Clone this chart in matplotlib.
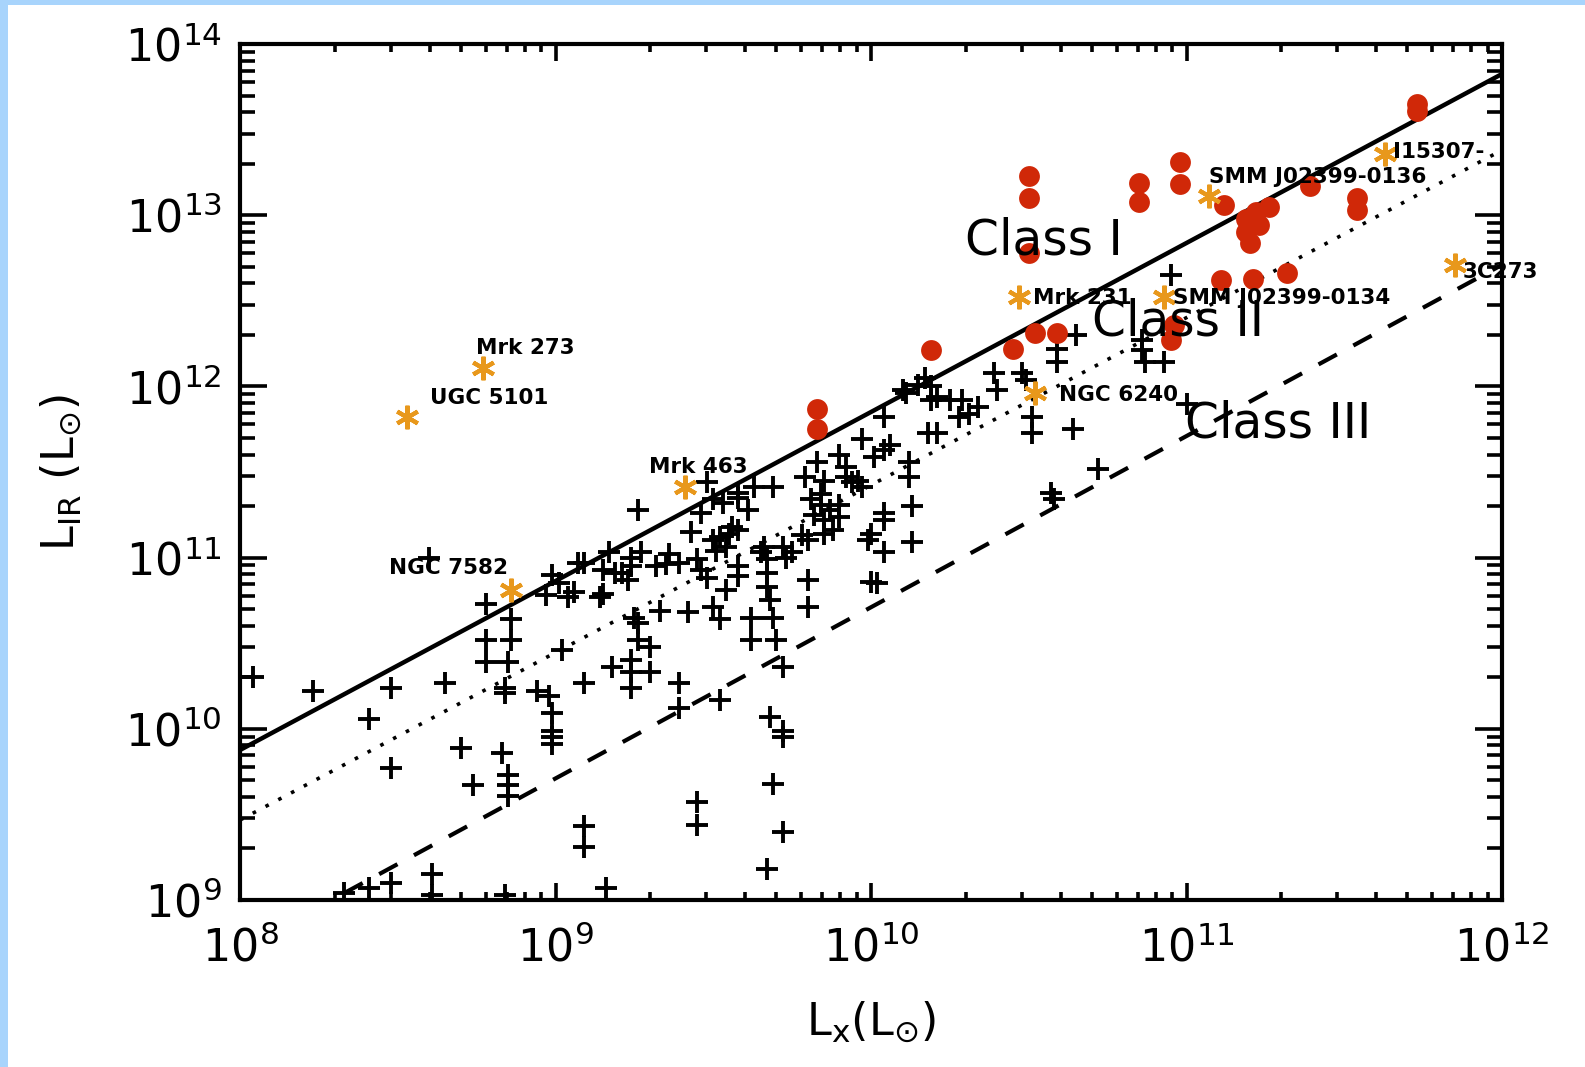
import numpy as np
import matplotlib
matplotlib.use("Agg")
import matplotlib.pyplot as plt
from matplotlib.patches import Rectangle

# log10 of luminosities (solar units)
# black crosses
plus_lx = np.array([
    8.04, 8.23, 8.48, 8.41, 8.65, 8.48, 8.70, 8.74, 8.83, 8.85, 8.85, 8.85,
    8.78, 8.86, 8.78, 8.86, 8.78, 8.85, 8.84, 8.84, 8.94, 8.98, 8.99, 8.99,
    8.99, 8.99, 9.02, 8.61, 8.48, 8.41, 8.33, 8.61, 8.84, 8.60, 9.07, 8.99,
    8.97, 9.04, 9.14, 9.19, 9.01,
    9.26, 9.48, 9.43, 9.09, 9.15, 9.06, 9.15, 9.24, 9.24, 9.23, 9.27, 9.36,
    9.35, 9.26, 9.26, 9.30, 9.45, 9.46, 9.48, 9.50, 9.52, 9.54, 9.54, 9.55,
    9.56, 9.50, 9.53, 9.58, 9.63, 9.61, 9.69, 9.66, 9.67, 9.67, 9.67, 9.68,
    9.69, 9.62, 9.62, 9.70, 9.72, 9.80, 9.80, 9.81, 9.84, 9.87, 9.82, 9.85,
    9.90, 9.84, 9.90, 9.85, 9.78, 9.80, 9.79, 9.83, 9.85, 9.90, 9.92, 9.92,
    9.94, 9.46, 9.50, 9.58, 9.58, 9.52, 9.51, 9.58, 9.58, 9.65, 9.73, 9.75,
    9.88, 9.39, 9.32, 9.17, 9.21,
    9.09, 9.18, 9.24, 9.24, 9.24, 9.30, 9.39, 9.39, 9.52, 9.72, 9.68, 9.72,
    9.72, 9.69, 9.72, 9.67, 9.45, 9.45, 9.09, 9.09, 9.16, 9.25, 9.42, 9.33,
    10.17, 10.15, 10.10, 10.19, 10.21, 10.19, 10.04, 10.18, 10.21, 10.25,
    10.29, 10.34, 10.28, 10.31, 10.39, 10.40, 10.48, 10.49, 10.51, 10.51,
    10.64, 10.59, 10.65, 10.86, 10.86, 10.93, 9.97, 10.04, 10.06, 10.01,
    10.12, 10.12, 9.96, 9.97, 10.04, 10.13, 10.00, 10.72, 10.57, 10.58,
    9.99, 10.04, 10.13, 10.00, 10.02, 10.95, 11.00, 10.11, 10.87, 10.59,
    10.04,
])
plus_lir = np.array([
    10.30, 10.22, 10.24, 10.06, 10.27, 9.77, 9.89, 9.67, 9.86, 9.73, 9.67, 9.61,
    10.73, 10.64, 10.52, 10.52, 10.39, 10.39, 10.24, 10.21, 10.22, 10.19, 10.09, 9.99,
    9.95, 9.91, 10.46, 9.15, 9.10, 9.07, 9.04, 9.03, 9.03, 11.00, 10.97, 10.90,
    10.78, 10.77, 10.77, 10.91, 10.85,
    11.28, 11.44, 11.15, 10.97, 10.93, 10.80, 10.79, 11.00, 10.95, 10.87, 11.03, 11.02,
    10.96, 10.62, 10.52, 10.48, 10.99, 10.93, 10.88, 10.71, 10.64, 10.81, 11.06, 11.14,
    11.18, 11.10, 11.32, 11.35, 11.41, 11.28, 11.41, 11.06, 10.99, 10.91, 10.83, 10.75,
    10.65, 10.65, 10.52, 10.52, 11.06, 10.87, 10.71, 11.34, 11.31, 11.28, 11.25, 11.22,
    11.31, 11.37, 11.24, 11.14, 11.13, 11.10, 11.47, 11.56, 11.45, 11.60, 11.53, 11.47,
    11.44, 11.26, 11.34, 11.38, 11.16, 11.12, 11.04, 10.95, 10.89, 11.03, 11.00, 11.03,
    11.16, 10.97, 10.95, 11.03, 10.91,
    10.27, 10.36, 10.40, 10.33, 10.24, 10.33, 10.27, 10.12, 10.17, 10.36, 10.07, 9.99,
    9.95, 9.68, 9.40, 9.18, 9.57, 9.44, 9.43, 9.31, 9.07, 10.65, 10.68, 10.69,
    12.05, 12.01, 11.98, 12.00, 11.94, 11.92, 11.82, 11.73, 11.73, 11.92,
    11.92, 11.88, 11.82, 11.84, 12.08, 11.98, 12.08, 12.04, 11.82, 11.73,
    11.75, 12.22, 12.30, 12.21, 12.27, 12.14, 11.69, 11.63, 11.66, 11.59,
    11.56, 11.47, 11.45, 11.41, 11.26, 11.30, 11.14, 11.52, 11.38, 11.34,
    11.10, 11.03, 11.09, 10.86, 10.85, 12.65, 11.90, 11.96, 12.14, 12.14,
    11.22,
])

# red filled circles
dot_lx = np.array([9.83, 9.83, 10.19, 10.45, 10.52, 10.59, 10.50, 10.50, 10.50,
                   10.85, 10.85, 10.98, 10.98, 11.12, 11.19, 11.22, 11.26, 11.19,
                   11.20, 11.23, 11.39, 11.54, 11.54, 11.73, 11.73, 11.11, 11.21,
                   11.32, 10.96, 10.95])
dot_lir = np.array([11.87, 11.75, 12.21, 12.22, 12.31, 12.31, 13.23, 13.10, 12.78,
                    13.19, 13.08, 13.31, 13.18, 13.06, 12.98, 13.02, 13.05, 12.90,
                    12.84, 12.94, 13.17, 13.10, 13.03, 13.65, 13.61, 12.62, 12.63,
                    12.66, 12.36, 12.27])

# named objects (orange asterisks)
named = ["Mrk 273", "UGC 5101", "NGC 7582", "Mrk 463", "Mrk 231", "NGC 6240",
         "SMM J02399-0134", "SMM J02399-0136", "I15307-", "3C273"]
named_lx = np.array([8.77, 8.53, 8.86, 9.41, 10.47, 10.52, 10.93, 11.07, 11.63, 11.85])
named_lir = np.array([12.11, 11.82, 10.81, 11.41, 12.52, 11.96, 12.52, 13.11, 13.36, 12.71])
label_lx = np.array([8.748, 8.602, 8.472, 9.296, 10.513, 10.596, 10.957, 11.071, 11.655, 11.876])
label_lir = np.array([12.224, 11.932, 10.939, 11.529, 12.516, 11.95, 12.516, 13.223, 13.369, 12.668])

# class boundary lines (end points)
line_lx = np.array([8.0, 12.0])
class1_lir = np.array([9.876, 13.825])
class2_lir = np.array([9.467, 13.38])
class3_lir = np.array([8.71, 12.71])

classes = ["Class I", "Class II", "Class III"]
class_lx = np.array([10.298, 10.70, 10.995])
class_lir = np.array([12.855, 12.382, 11.786])

W, H = 1585, 1067
fig = plt.figure(figsize=(W / 100, H / 100), dpi=100)
fig.patch.set_facecolor("#a8d4fc")
fig.add_artist(Rectangle((8 / W, 0), 1 - 8 / W, 1 - 5 / H, transform=fig.transFigure,
                         facecolor="white", edgecolor="none", zorder=-1))

ax = fig.add_axes([240 / W, 1 - 900 / H, (1502 - 240) / W, (900 - 44) / H])
ax.set_xscale("log")
ax.set_yscale("log")

ax.plot(10 ** line_lx, 10 ** class1_lir, color="black", lw=3.2, zorder=3)
ax.plot(10 ** line_lx, 10 ** class2_lir, color="black", lw=2.6, ls=(0, (1, 3)), zorder=3)
ax.plot(10 ** line_lx, 10 ** class3_lir, color="black", lw=3.0, ls=(0, (5, 4.5)), zorder=3)

ax.plot(10 ** plus_lx, 10 ** plus_lir, ls="none", marker="+", ms=16, mew=2.8,
        color="black", zorder=2)
ax.plot(10 ** dot_lx, 10 ** dot_lir, ls="none", marker="o", ms=15, mew=0,
        color="#d02808", zorder=4)
ax.plot(10 ** named_lx, 10 ** named_lir, ls="none", marker=(6, 2, 0), ms=17, mew=3,
        color="#e8981c", zorder=5)

for name, lx, ly in zip(named, label_lx, label_lir):
    ax.text(10 ** lx, 10 ** ly, name, fontsize=15.5, fontweight="bold",
            ha="left", va="center", zorder=6, clip_on=(name == "I15307-"))

for name, lx, ly in zip(classes, class_lx, class_lir):
    ax.text(10 ** lx, 10 ** ly, name, fontsize=35, ha="left", va="center", zorder=6)

ax.set_xlim(1e8, 1e12)
ax.set_ylim(1e9, 1e14)

for s in ax.spines.values():
    s.set_linewidth(3)
ax.tick_params(which="both", direction="in", top=True, right=True, width=2.6,
               labelsize=32)
ax.tick_params(axis="x", which="major", length=12, pad=19)
ax.tick_params(axis="x", which="minor", length=6)
ax.tick_params(axis="y", which="major", length=19.5, pad=13)
ax.tick_params(axis="y", which="minor", length=11)

ax.set_xlabel(r"$\mathregular{L_x(L_{\odot})}$", fontsize=32, labelpad=20)
ax.set_ylabel(r"$\mathregular{L_{IR}\ (L_{\odot})}$", fontsize=32, labelpad=30)

fig.savefig("out.png", dpi=100, facecolor=fig.get_facecolor())
